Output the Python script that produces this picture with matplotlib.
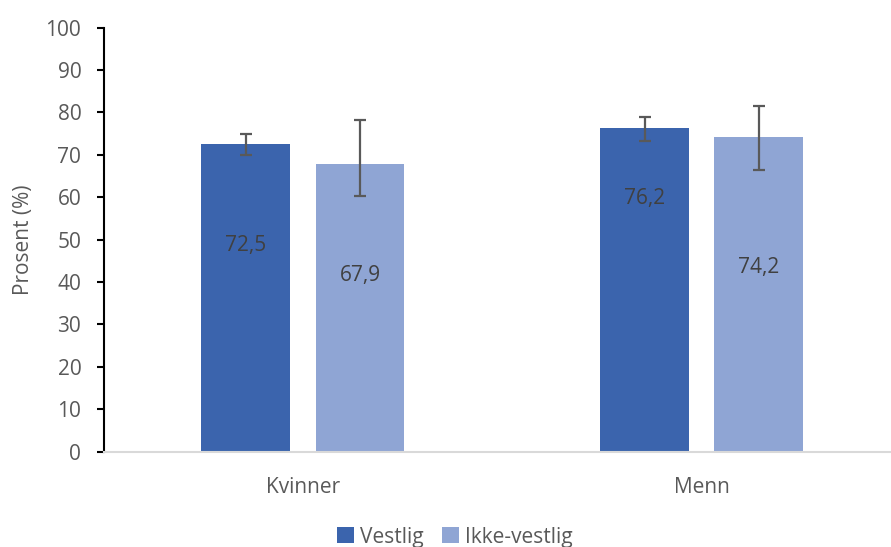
import matplotlib
matplotlib.use("Agg")
import matplotlib.pyplot as plt
import numpy as np

categories = ["Kvinner", "Menn"]
series_names = ["Vestlig", "Ikke-vestlig"]
values = {"Vestlig": [72.5, 76.2], "Ikke-vestlig": [67.9, 74.2]}
ci_low = {"Vestlig": [70.0, 73.3], "Ikke-vestlig": [60.2, 66.5]}
ci_high = {"Vestlig": [74.8, 78.9], "Ikke-vestlig": [78.2, 81.6]}
value_labels = {"Vestlig": ["72,5", "76,2"], "Ikke-vestlig": ["67,9", "74,2"]}
label_y = {"Vestlig": [48.7, 59.8], "Ikke-vestlig": [41.6, 43.5]}
yticks = list(range(0, 101, 10))

colors = {"Vestlig": "#3B64AD", "Ikke-vestlig": "#8FA5D4"}
offsets = {"Vestlig": -0.143, "Ikke-vestlig": 0.143}
width = 0.223
fs = 15

plt.rcParams['font.family'] = ['Open Sans', 'DejaVu Sans']
fig = plt.figure(figsize=(8.91, 5.47), dpi=100)
ax = fig.add_axes([103.5/891, 1 - 451.7/547, 1 - 103.5/891, (451.7-27.5)/547])

x = np.arange(len(categories))
handles = []
for s in series_names:
    v = np.array(values[s])
    lo = v - np.array(ci_low[s])
    hi = np.array(ci_high[s]) - v
    b = ax.bar(x + offsets[s], v, width, color=colors[s], label=s, zorder=2)
    handles.append(b)
    ax.errorbar(x + offsets[s], v, yerr=[lo, hi], fmt='none', ecolor='#595959',
                elinewidth=1.6, capsize=4.5, capthick=1.6, zorder=3)
    for xi, ly, t in zip(x + offsets[s], label_y[s], value_labels[s]):
        ax.text(xi, ly, t, ha='center', va='center', fontsize=fs, color='#404040', zorder=4)

ax.set_xlim(-0.5, 1.474)
ax.set_ylim(0, 100)
ax.set_yticks(yticks)
ax.set_yticklabels([str(t) for t in yticks], fontsize=fs, color='#595959')
ax.set_xticks(x)
ax.set_xticklabels(categories, fontsize=fs, color='#595959')
ax.tick_params(axis='x', length=0, pad=18)
ax.tick_params(axis='y', length=5, width=1.5, color='black', pad=11)
for side in ['top', 'right']:
    ax.spines[side].set_visible(False)
ax.spines['left'].set_color('black')
ax.spines['left'].set_linewidth(1.5)
ax.spines['bottom'].set_color('#D9D9D9')
ax.spines['bottom'].set_linewidth(1.5)
ax.set_ylabel("Prosent (%)", fontsize=15, color='#595959')
ax.yaxis.set_label_coords(-(103.5 - 34) / (891 - 103.5), 0.5)

fig.legend(handles=handles, labels=series_names, loc='center', bbox_to_anchor=(455/891, 1 - 537/547),
           ncol=2, frameon=False, fontsize=fs, labelcolor='#595959',
           handlelength=0.8, handleheight=0.8, handletextpad=0.3, columnspacing=0.9)

fig.savefig("out.png", dpi=100)
